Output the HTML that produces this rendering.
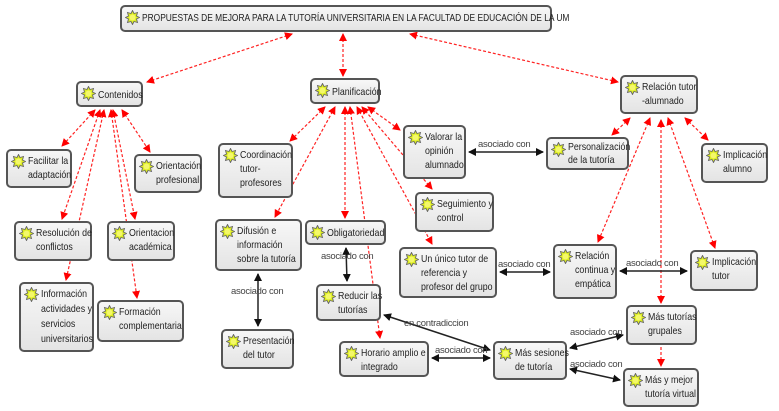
<!DOCTYPE html>
<html><head><meta charset="utf-8"><style>
body{margin:0;background:#fff;width:779px;height:411px;overflow:hidden;position:relative;font-family:"Liberation Sans",sans-serif;}
.n{position:absolute;box-sizing:border-box;border:2px solid #555;border-radius:5px;background:linear-gradient(#f7f7f7,#e4e4e4);font-size:10.5px;line-height:14px;color:#222;padding:3px 2px 3px 20px;white-space:nowrap;}
.n .t{display:inline-block;transform:scaleX(0.84);transform-origin:0 0;}
.n svg{position:absolute;left:3px;top:3px;}
.l{position:absolute;font-size:9.5px;color:#444;white-space:nowrap;letter-spacing:-0.3px;}
svg.e{position:absolute;left:0;top:0;}
</style></head><body>
<svg class="e" width="779" height="411">
<defs>
<marker id="r" markerWidth="8" markerHeight="8" refX="7" refY="4" orient="auto-start-reverse" markerUnits="userSpaceOnUse"><path d="M0,0L8,4L0,8z" fill="#f00"/></marker>
<marker id="k" markerWidth="8" markerHeight="8" refX="7" refY="4" orient="auto-start-reverse" markerUnits="userSpaceOnUse"><path d="M0,0L8,4L0,8z" fill="#111"/></marker>
</defs>
<g stroke="#f22" stroke-width="1.2" stroke-dasharray="3,2" fill="none" marker-start="url(#r)" marker-end="url(#r)">
<line x1="292" y1="34" x2="147" y2="82"/>
<line x1="343" y1="34" x2="343" y2="76"/>
<line x1="410" y1="34" x2="618" y2="82"/>
<line x1="95" y1="110" x2="62" y2="146"/>
<line x1="100" y1="110" x2="62" y2="219"/>
<line x1="104" y1="110" x2="66" y2="280"/>
<line x1="113" y1="110" x2="135" y2="219"/>
<line x1="111" y1="110" x2="137" y2="298"/>
<line x1="122" y1="110" x2="150" y2="152"/>
<line x1="325" y1="107" x2="290" y2="141"/>
<line x1="335" y1="107" x2="275" y2="217"/>
<line x1="345" y1="107" x2="345" y2="218"/>
<line x1="350" y1="107" x2="380" y2="338"/>
<line x1="368" y1="107" x2="400" y2="130"/>
<line x1="362" y1="107" x2="432" y2="189"/>
<line x1="357" y1="107" x2="432" y2="244"/>
<line x1="630" y1="118" x2="612" y2="135"/>
<line x1="650" y1="118" x2="598" y2="242"/>
<line x1="661" y1="120" x2="661" y2="303"/>
<line x1="668" y1="118" x2="715" y2="248"/>
<line x1="685" y1="118" x2="708" y2="140"/>
</g>
<g stroke="#f22" stroke-width="1.2" stroke-dasharray="3,2" fill="none" marker-end="url(#r)">
<line x1="661" y1="347" x2="661" y2="366"/>
</g>
<g stroke="#222" stroke-width="1.5" fill="none" marker-start="url(#k)" marker-end="url(#k)">
<line x1="469" y1="152" x2="543" y2="152"/>
<line x1="258" y1="274" x2="258" y2="326"/>
<line x1="346" y1="248" x2="347" y2="281"/>
<line x1="500" y1="272" x2="550" y2="272"/>
<line x1="620" y1="271" x2="687" y2="271"/>
<line x1="384" y1="315" x2="490" y2="350"/>
<line x1="432" y1="358" x2="490" y2="358"/>
<line x1="570" y1="348" x2="623" y2="335"/>
<line x1="570" y1="369" x2="620" y2="380"/>
</g>
</svg>
<div class="l" style="left:478px;top:139px">asociado con</div>
<div class="l" style="left:231px;top:286px">asociado con</div>
<div class="l" style="left:321px;top:251px">asociado con</div>
<div class="l" style="left:498px;top:259px">asociado con</div>
<div class="l" style="left:626px;top:258px">asociado con</div>
<div class="l" style="left:404px;top:318px">en contradiccion</div>
<div class="l" style="left:435px;top:345px">asociado con</div>
<div class="l" style="left:570px;top:327px">asociado con</div>
<div class="l" style="left:570px;top:359px">asociado con</div>

<div class="n" style="left:120px;top:5px;width:432px;height:27px;padding-top:5px;font-size:10px">PROPUESTAS DE MEJORA PARA LA TUTORÍA UNIVERSITARIA EN LA FACULTAD DE EDUCACIÓN DE LA UM</div>
<div class="n" style="left:76px;top:81px;width:67px;height:26px;padding-top:5px">Contenidos</div>
<div class="n" style="left:310px;top:78px;width:70px;height:26px;padding-top:5px">Planificación</div>
<div class="n" style="left:620px;top:75px;width:78px;height:39px">Relación tutor<br>-alumnado</div>
<div class="n" style="left:6px;top:149px;width:66px;height:39px">Facilitar la<br>adaptación</div>
<div class="n" style="left:134px;top:154px;width:68px;height:39px">Orientación<br>profesional</div>
<div class="n" style="left:218px;top:143px;width:75px;height:55px">Coordinación<br>tutor-<br>profesores</div>
<div class="n" style="left:403px;top:125px;width:63px;height:54px">Valorar la<br>opinión<br>alumnado</div>
<div class="n" style="left:546px;top:137px;width:83px;height:33px;line-height:13px;padding-top:2px">Personalización<br>de la tutoría</div>
<div class="n" style="left:701px;top:143px;width:67px;height:40px">Implicación<br>alumno</div>
<div class="n" style="left:415px;top:192px;width:79px;height:40px">Seguimiento y<br>control</div>
<div class="n" style="left:14px;top:221px;width:78px;height:40px">Resolución de<br>conflictos</div>
<div class="n" style="left:107px;top:221px;width:68px;height:40px">Orientacion<br>académica</div>
<div class="n" style="left:215px;top:219px;width:87px;height:52px">Difusión e<br>información<br>sobre la tutoría</div>
<div class="n" style="left:305px;top:220px;width:81px;height:25px;padding-top:4px">Obligatoriedad</div>
<div class="n" style="left:399px;top:247px;width:98px;height:51px">Un único tutor de<br>referencia y<br>profesor del grupo</div>
<div class="n" style="left:553px;top:244px;width:64px;height:55px">Relación<br>continua y<br>empática</div>
<div class="n" style="left:690px;top:250px;width:68px;height:41px">Implicación<br>tutor</div>
<div class="n" style="left:19px;top:282px;width:75px;height:70px;line-height:15px">Información<br>actividades y<br>servicios<br>universitarios</div>
<div class="n" style="left:97px;top:300px;width:87px;height:42px">Formación<br>complementaria</div>
<div class="n" style="left:316px;top:284px;width:65px;height:37px">Reducir las<br>tutorías</div>
<div class="n" style="left:221px;top:329px;width:73px;height:40px">Presentación<br>del tutor</div>
<div class="n" style="left:339px;top:341px;width:90px;height:36px">Horario amplio e<br>integrado</div>
<div class="n" style="left:626px;top:305px;width:71px;height:40px">Más tutorías<br>grupales</div>
<div class="n" style="left:493px;top:341px;width:74px;height:39px">Más sesiones<br>de tutoría</div>
<div class="n" style="left:623px;top:368px;width:76px;height:39px">Más y mejor<br>tutoría virtual</div>
<script>
document.querySelectorAll('.n').forEach(function(n){
n.innerHTML='<span class="t">'+n.innerHTML+'</span>';
n.insertAdjacentHTML('afterbegin','<svg width="15" height="15" viewBox="0 0 15 15"><path d="M7.5 0.5L9 3.5L12.5 2.5L11.5 6L14.5 7.5L11.5 9L12.5 12.5L9 11.5L7.5 14.5L6 11.5L2.5 12.5L3.5 9L0.5 7.5L3.5 6L2.5 2.5L6 3.5Z" fill="#ddee22" stroke="#666" stroke-width="0.9"/><circle cx="7.5" cy="7.5" r="3" fill="#f4f86a"/></svg>');
});
</script>
</body></html>
